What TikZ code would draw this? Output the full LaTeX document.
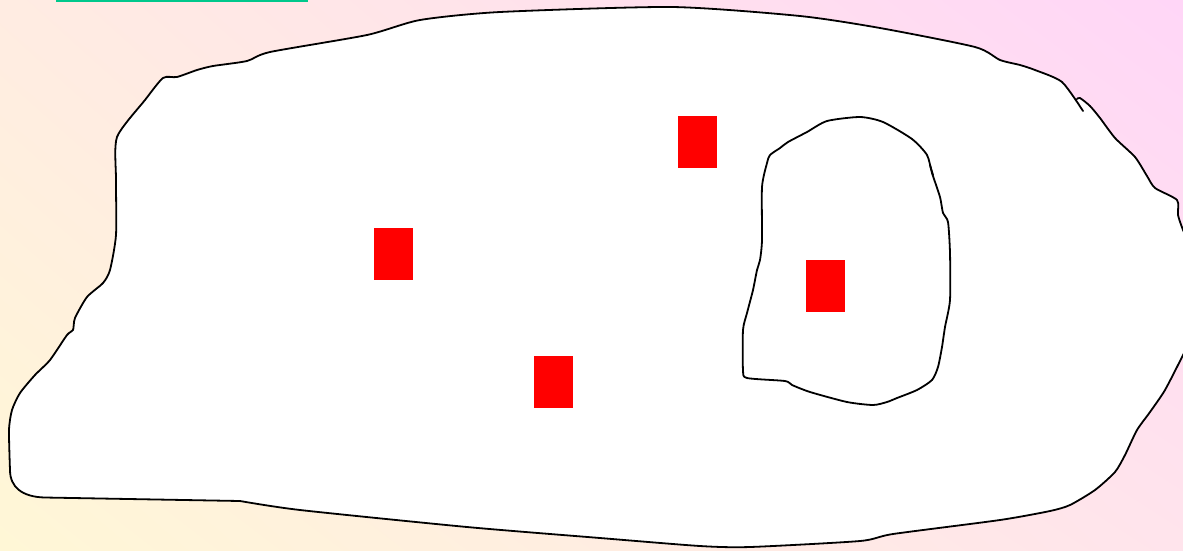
\documentclass[tikz,border=0pt]{standalone}
\usetikzlibrary{shadings}
\definecolor{bgyellow}{RGB}{255,247,214}
\definecolor{bgpink}{RGB}{255,214,247}
\definecolor{bgpeach}{RGB}{255,236,226}
\definecolor{bgrose}{RGB}{255,228,236}
\definecolor{topgreen}{RGB}{0,200,140}
\definecolor{boxred}{RGB}{255,0,0}
\tikzset{
  outline/.style={line width=1.8pt, black, line join=round, line cap=round},
  redbox/.style={fill=boxred, draw=none, minimum width=39pt, minimum height=52pt, inner sep=0pt, anchor=north west},
}
\newcommand\myblobpath{plot[smooth, tension=0.4] coordinates {
(1077,99) (1080,98) (1090,106) (1100,118) (1115,138) (1135,157) (1147,176) (1155,188) (1177,200) (1178,215) (1183,230) (1195,260) (1195,330) (1183,355) (1165,390) (1150,412) (1137,430) (1125,455) (1115,472) (1095,490) (1070,505) (1050,511) (1000,520) (893,534) (860,541) (750,547) (700,546) (600,538) (467,527) (300,510) (240,501)}
-- (45,497.5) .. controls (22,497) and (10,487) .. (10,470)
-- plot[smooth, tension=0.4] coordinates {
(10,470) (9,430) (12,410) (20,393) (35,375) (50,360) (67,335) (73,330) (75,318) (87,297) (103,283) (110,270) (116,235) (116,180) (117,137) (145,100) (163,78) (177,77) (197,70) (213,66) (247,61) (270,52) (367,35) (420,20) (500,12) (672,7) (800,16) (880,28) (975,47) (1000,60) (1020,65) (1035,70) (1062,82) (1083,111)}}
\begin{document}
\begin{tikzpicture}[x=1pt,y=-1pt]
\useasboundingbox (0,0) rectangle (1183,550);
\clip (0,0) rectangle (1183,550);
\shade[lower left=bgyellow, upper right=bgpink, upper left=bgpeach, lower right=bgrose] (0,550) rectangle (1183,0);
\draw[topgreen, line width=3pt] (56,0) -- (308,0);
% outer blob
\fill[white] \myblobpath -- cycle;
\draw[outline] \myblobpath;
% inner blob
\draw[outline] plot[smooth cycle, tension=0.4] coordinates {
(770,155) (780,148) (788,142) (807,132) (827,121) (860,117) (883,122) (912,139) (927,155) (932,173) (940,197) (943,213) (948,222) (950,253) (950,300) (945,327) (942,347) (938,367) (932,380) (917,390) (897,398) (887,402) (873,405) (847,402) (810,392) (792,385) (785,381) (747,378) (743,370) (743,330) (747,313) (753,290) (757,270) (760,260) (762,240) (762,187) (767,163)};
\draw[outline] (930,165) -- (933,175);
% red boxes
\node[redbox] (b1) at (678,116) {};
\node[redbox] (b2) at (374,228) {};
\node[redbox] (b3) at (806,260) {};
\node[redbox] (b4) at (534,356) {};
\end{tikzpicture}
\end{document}
